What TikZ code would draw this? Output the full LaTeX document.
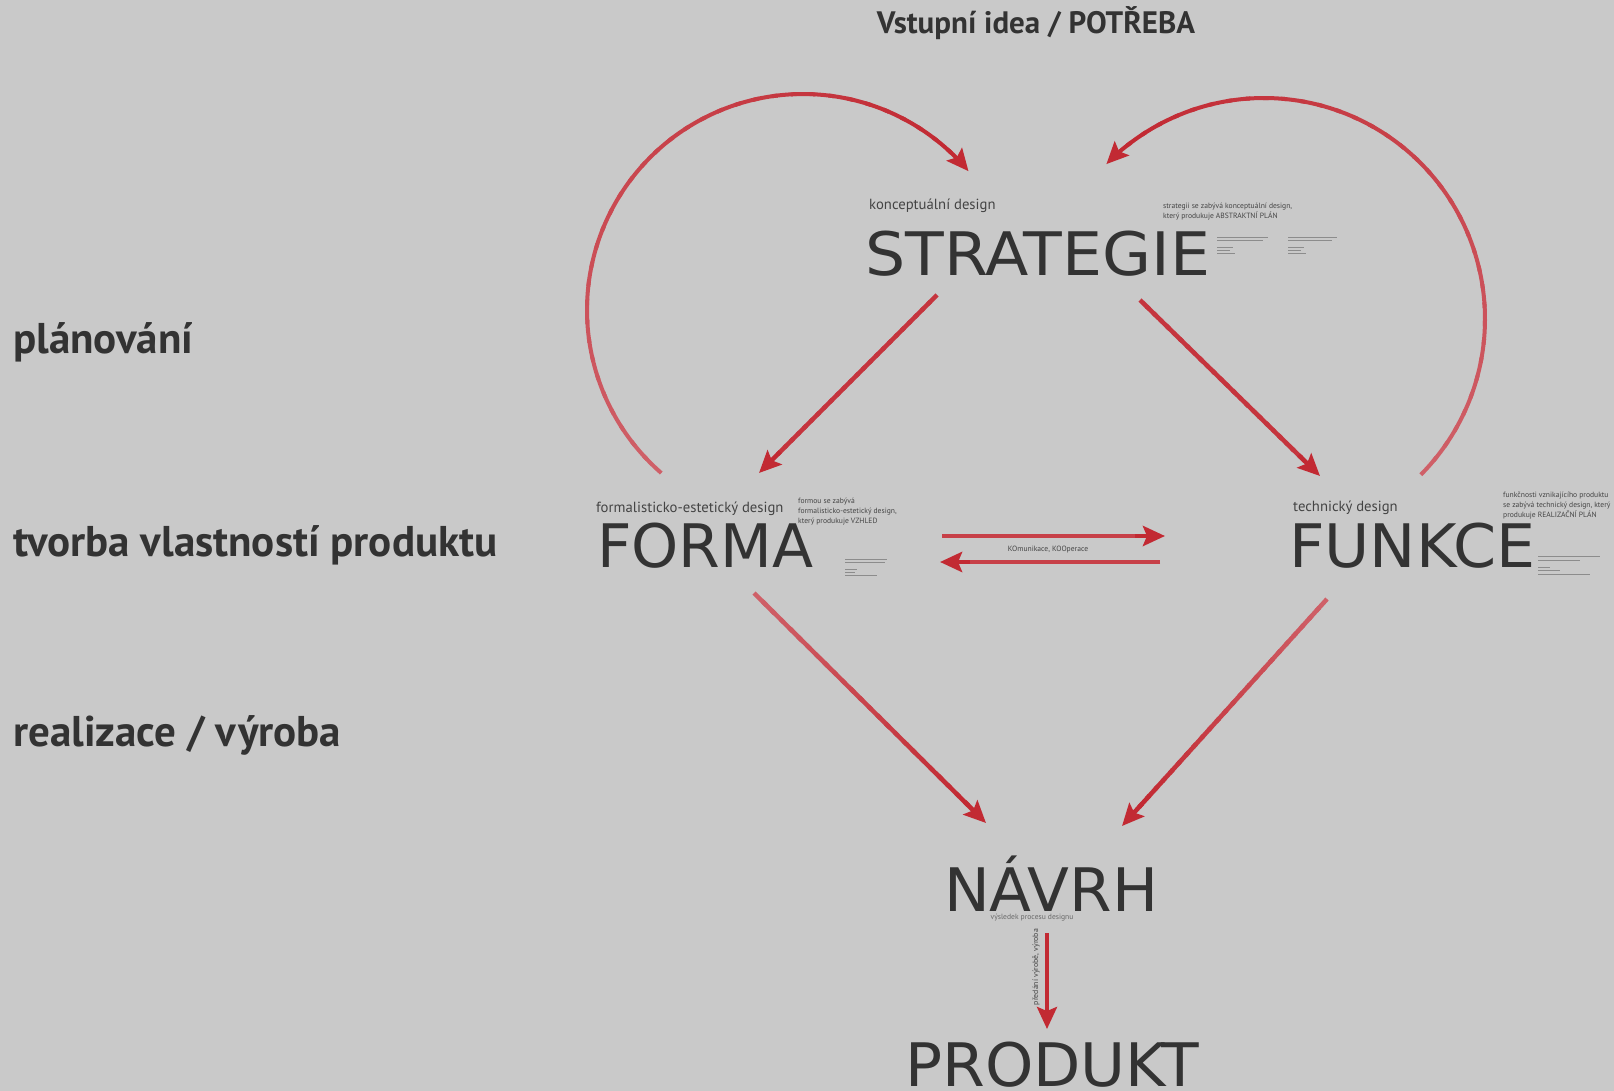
\documentclass[tikz,border=0pt]{standalone}
\usepackage{fontspec}
\setmainfont{PT Sans}
\newfontfamily\bigfont{DejaVu Sans}
\usetikzlibrary{arrows.meta,calc}

\definecolor{bgray}{HTML}{C9C9C9}
\definecolor{ink}{HTML}{333333}
\definecolor{softink}{HTML}{444444}
\definecolor{redline}{HTML}{C22A33}
\definecolor{redpale}{HTML}{CF6068}
\definecolor{greektext}{HTML}{8C8C8C}

\tikzset{
  bigword/.style={font=\bigfont\fontsize{60}{60}\selectfont, text=ink, anchor=base west, inner sep=0pt},
  heading/.style={font=\bfseries\fontsize{43}{43}\selectfont, text=ink, anchor=base west, inner sep=0pt},
  sublabel/.style={font=\fontsize{14.7}{14.7}\selectfont, text=softink, anchor=base west, inner sep=0pt},
  note/.style={font=\fontsize{7.6}{10}\selectfont, text=softink, align=left, anchor=north west, inner sep=0pt},
  tinytext/.style={font=\fontsize{7.6}{7.6}\selectfont, text=softink, inner sep=0pt},
  greekline/.style={draw=greektext, line width=0.9pt},
  tiphead/.style={-{Stealth[length=22pt,width=20pt,inset=4pt]}},
}

% straight connector whose colour deepens from pale at the tail to red at the tip
\newcommand\fadedline[4]{%
  \coordinate (pre) at ($(#2)!30pt!(#1)$);
  \foreach \i in {0,...,23}{%
    \pgfmathsetmacro\fa{\i/24}%
    \pgfmathsetmacro\fb{(\i+1.4)/24}%
    \pgfmathtruncatemacro\mixp{100*\i/23}%
    \draw[line width=#3, draw=redline!\mixp!#4] ($(#1)!\fa!(pre)$) -- ($(#1)!\fb!(pre)$);
  }
  \draw[line width=#3, redline, tiphead] (pre) -- (#2);
}

% circular connector with the same colour fade: centre, radius, start, fade end, tip angle, width
\newcommand\fadedarc[6]{%
  \foreach \i in {0,...,35}{%
    \pgfmathsetmacro\aa{#3+(#4-#3)*\i/36}%
    \pgfmathsetmacro\bb{#3+(#4-#3)*(\i+1.3)/36}%
    \pgfmathtruncatemacro\mixp{100*\i/35}%
    \draw[line width=#6, draw=redline!\mixp!redpale] ($(#1)+(\aa:#2)$) arc (\aa:\bb:#2);
  }
  \draw[line width=#6, redline, tiphead] ($(#1)+(#4:#2)$) arc (#4:#5:#2);
}

\begin{document}
\begin{tikzpicture}[x=1pt,y=-1pt]
  \useasboundingbox (0,0) rectangle (1614,1091);
  \fill[bgray] (0,0) rectangle (1614,1091);

  % headings
  \node[font=\bfseries\fontsize{31}{31}\selectfont, text=ink, anchor=base, inner sep=0pt] (need) at (1036,34) {Vstupní idea / POTŘEBA};
  \node[heading] (plan) at (13,353) {plánování};
  \node[heading] (props) at (13,556) {tvorba vlastností produktu};
  \node[heading] (make) at (13,746) {realizace / výroba};

  % main stages
  \node[bigword] (strategie) at (865,276) {\scalebox{1.055}[1]{STRATEGIE}};
  \node[bigword] (forma) at (597,567) {FORMA};
  \node[bigword] (funkce) at (1289,567) {\scalebox{1.03}[1]{FUNKCE}};
  \node[bigword] (navrh) at (944,911) {\scalebox{1.02}[1]{NÁVRH}};
  \node[bigword] (produkt) at (905,1086) {\scalebox{1.025}[1]{PRODUKT}};

  % stage subtitles
  \node[sublabel] (konc) at (869,210) {konceptuální design};
  \node[sublabel] (form) at (596,512) {formalisticko-estetický design};
  \node[sublabel] (tech) at (1293,511) {technický design};

  % side notes
  \node[note] (strnote) at (1163,203) {strategii se zabývá konceptuální design,\\který produkuje ABSTRAKTNÍ PLÁN};
  \node[note] (formnote) at (798,498) {formou se zabývá\\formalisticko-estetický design,\\který produkuje VZHLED};
  \node[note] (funknote) at (1503,492) {funkčnosti vznikajícího produktu\\se zabývá technický design, který\\produkuje REALIZAČNÍ PLÁN};

  % fine print blocks
  \foreach \x/\w in {1217/51, 1288/49} {
    \draw[greekline] (\x,237) -- ++(\w,0);
    \draw[greekline] (\x,240) -- ++(\w*0.9,0);
    \draw[greekline] (\x,247) -- ++(16,0);
    \draw[greekline] (\x,250) -- ++(13,0);
    \draw[greekline] (\x,253) -- ++(18,0);
  }
  \draw[greekline] (845,559) -- ++(42,0);
  \draw[greekline] (845,562) -- ++(40,0);
  \draw[greekline] (845,569) -- ++(12,0);
  \draw[greekline] (845,572) -- ++(10,0);
  \draw[greekline] (845,575) -- ++(32,0);
  \draw[greekline] (1538,556) -- ++(62,0);
  \draw[greekline] (1538,560) -- ++(42,0);
  \draw[greekline] (1538,567) -- ++(12,0);
  \draw[greekline] (1538,570) -- ++(22,0);
  \draw[greekline] (1538,574) -- ++(52,0);

  % connector end points
  \coordinate (sfa) at (937,295);   \coordinate (sfb) at (759,473);
  \coordinate (ska) at (1140,300);  \coordinate (skb) at (1320,476);
  \coordinate (fna) at (754,593);   \coordinate (fnb) at (986,823);
  \coordinate (kna) at (1327,599);  \coordinate (knb) at (1122,826);
  \coordinate (fka) at (942,536);   \coordinate (fkb) at (1165,536);
  \coordinate (kfa) at (1160,562);  \coordinate (kfb) at (940,562);
  \coordinate (npa) at (1047,933);  \coordinate (npb) at (1047,1029);
  \coordinate (loopl) at (803,310);
  \coordinate (loopr) at (1264,319);

  % feedback loops into the strategy
  \fadedarc{loopl}{216}{131}{312}{320}{4pt}
  \fadedarc{loopr}{221}{44.8}{-127}{-135.5}{4pt}

  % flow between stages
  \fadedline{sfa}{sfb}{4.5pt}{redline!80!redpale}
  \fadedline{ska}{skb}{4.5pt}{redline!80!redpale}
  \fadedline{fna}{fnb}{4.5pt}{redpale}
  \fadedline{kna}{knb}{4.5pt}{redpale}
  \fadedline{fka}{fkb}{4.5pt}{redline!60!redpale}
  \fadedline{kfa}{kfb}{4.5pt}{redline!60!redpale}
  \draw[line width=4pt, redline, tiphead] (npa) -- (npb);

  % connector labels
  \node[tinytext] (komu) at (1048,550) {KOmunikace, KOOperace};
  \node[tinytext, text=softink!80] (vysl) at (1032,918) {výsledek procesu designu};
  \node[tinytext, font=\fontsize{7.8}{7.8}\selectfont, rotate=90] (pred) at (1036,967) {předání výrobě, výroba};
\end{tikzpicture}
\end{document}
